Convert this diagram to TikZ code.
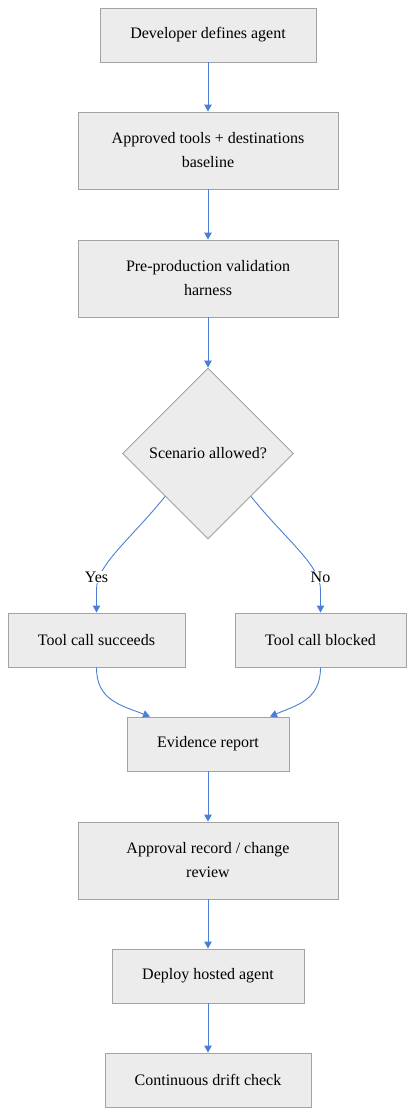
\documentclass[tikz,border=0pt]{standalone}
\usepackage{fontspec}
\setmainfont{Liberation Serif}
\usetikzlibrary{shapes.geometric,arrows.meta}
\definecolor{boxfill}{HTML}{ECECEC}
\definecolor{boxline}{HTML}{A3A3A3}
\definecolor{arrowc}{HTML}{4A7FD6}
\tikzset{
  stepbox/.style={draw=boxline, fill=boxfill, line width=0.9pt, inner sep=0pt, align=center, font=\fontsize{16}{24}\selectfont},
  decision/.style={diamond, draw=boxline, fill=boxfill, line width=0.9pt, inner sep=0pt, minimum width=171pt, minimum height=171pt, font=\fontsize{16}{24}\selectfont},
  flow/.style={draw=arrowc, line width=0.9pt, -{Triangle[length=7pt,width=7.5pt]}},
  lbl/.style={fill=white, inner sep=1pt, font=\fontsize{16}{18}\selectfont}
}
\begin{document}
\begin{tikzpicture}[x=1pt,y=-1pt]
\useasboundingbox (0,0) rectangle (414,1116);
\node[stepbox, minimum width=216pt, minimum height=54pt] (a) at (208,35) {Developer defines agent};
\node[stepbox, minimum width=260pt, minimum height=77pt] (b) at (208,150.5) {Approved tools + destinations\\baseline};
\node[stepbox, minimum width=260pt, minimum height=77pt] (c) at (208,278.5) {Pre-production validation\\harness};
\node[decision] (d) at (208,453.5) {Scenario allowed?};
\node[stepbox, minimum width=177pt, minimum height=54pt] (s) at (96.5,640) {Tool call succeeds};
\node[stepbox, minimum width=171pt, minimum height=54pt] (k) at (320.5,640) {Tool call blocked};
\node[stepbox, minimum width=162pt, minimum height=54pt] (e) at (208,744) {Evidence report};
\node[stepbox, minimum width=260pt, minimum height=77pt] (f) at (208,860.5) {Approval record / change\\review};
\node[stepbox, minimum width=192pt, minimum height=54pt] (g) at (208,976) {Deploy hosted agent};
\node[stepbox, minimum width=206pt, minimum height=54pt] (h) at (208,1080) {Continuous drift check};

\coordinate (eL) at ([xshift=-58pt]e.north);
\coordinate (eR) at ([xshift=62pt]e.north);

\draw[flow] (a) -- (b);
\draw[flow] (b) -- (c);
\draw[flow] (c) -- (d);
\draw[flow] (d.south west) .. controls (130,540) and (96,565) .. (96.5,590) -- (s.north);
\draw[flow] (d.south east) .. controls (286,540) and (320.5,565) .. (320.5,590) -- (k.north);
\node[lbl] (yes) at (96.5,577) {Yes};
\node[lbl] (no) at (320.5,577) {No};
\draw[flow] (s.south) .. controls (96.5,700) and (120,705) .. (eL);
\draw[flow] (k.south) .. controls (320.5,700) and (297,705) .. (eR);
\draw[flow] (e) -- (f);
\draw[flow] (f) -- (g);
\draw[flow] (g) -- (h);
\end{tikzpicture}
\end{document}
